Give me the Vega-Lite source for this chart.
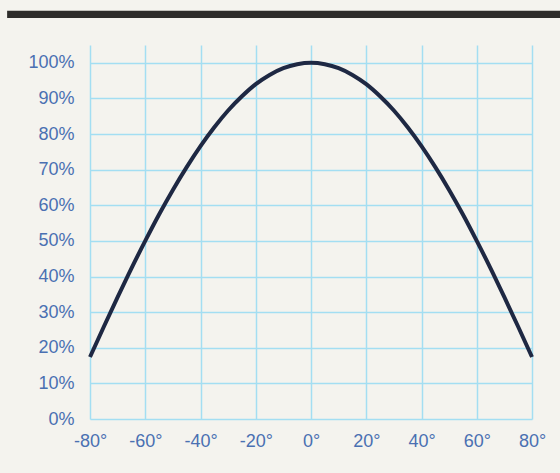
{
  "$schema": "https://vega.github.io/schema/vega-lite/v6.json",
  "autosize": "none",
  "width": 442,
  "height": 374,
  "padding": {"left": 90, "top": 45, "right": 28, "bottom": 54},
  "background": "#f4f3ee",
  "config": {
    "view": {"stroke": null},
    "font": "Liberation Sans",
    "axis": {
      "title": null,
      "domain": false,
      "ticks": false,
      "grid": true,
      "gridColor": "#a3def2",
      "gridWidth": 1.5,
      "gridOpacity": 1,
      "labelColor": "#4a70b2",
      "labelFontSize": 18,
      "labelFlush": false,
      "labelOverlap": false
    },
    "axisX": {"labelPadding": 13},
    "axisY": {"labelPadding": 16}
  },
  "data": {
    "values": [
      {"angle": -80, "pct": 17.4},
      {"angle": -75, "pct": 25.9},
      {"angle": -70, "pct": 34.2},
      {"angle": -65, "pct": 42.3},
      {"angle": -60, "pct": 50.0},
      {"angle": -55, "pct": 57.4},
      {"angle": -50, "pct": 64.3},
      {"angle": -45, "pct": 70.7},
      {"angle": -40, "pct": 76.6},
      {"angle": -35, "pct": 81.9},
      {"angle": -30, "pct": 86.6},
      {"angle": -25, "pct": 90.6},
      {"angle": -20, "pct": 94.0},
      {"angle": -15, "pct": 96.6},
      {"angle": -10, "pct": 98.5},
      {"angle": -5, "pct": 99.6},
      {"angle": 0, "pct": 100.0},
      {"angle": 5, "pct": 99.6},
      {"angle": 10, "pct": 98.5},
      {"angle": 15, "pct": 96.6},
      {"angle": 20, "pct": 94.0},
      {"angle": 25, "pct": 90.6},
      {"angle": 30, "pct": 86.6},
      {"angle": 35, "pct": 81.9},
      {"angle": 40, "pct": 76.6},
      {"angle": 45, "pct": 70.7},
      {"angle": 50, "pct": 64.3},
      {"angle": 55, "pct": 57.4},
      {"angle": 60, "pct": 50.0},
      {"angle": 65, "pct": 42.3},
      {"angle": 70, "pct": 34.2},
      {"angle": 75, "pct": 25.9},
      {"angle": 80, "pct": 17.4}
    ]
  },
  "layer": [
    {
      "mark": {"type": "rect", "color": "#2e2d2b", "clip": false},
      "data": {"values": [{}]},
      "encoding": {
        "x": {
          "datum": -110, "type": "quantitative",
          "scale": {"domain": [-80, 80], "nice": false},
          "axis": {"values": [-80, -60, -40, -20, 0, 20, 40, 60, 80], "labelExpr": "datum.value + '°'"}
        },
        "x2": {"datum": 91},
        "y": {
          "datum": 112.6, "type": "quantitative",
          "scale": {"domain": [0, 105], "nice": false},
          "axis": {"values": [0, 10, 20, 30, 40, 50, 60, 70, 80, 90, 100], "labelExpr": "datum.value + '%'"}
        },
        "y2": {"datum": 114.6}
      }
    },
    {
      "mark": {"type": "line", "color": "#1e2843", "strokeWidth": 4, "interpolate": "monotone", "strokeCap": "butt"},
      "encoding": {
        "x": {
          "field": "angle", "type": "quantitative",
          "scale": {"domain": [-80, 80], "nice": false},
          "axis": {"values": [-80, -60, -40, -20, 0, 20, 40, 60, 80], "labelExpr": "datum.value + '°'"}
        },
        "y": {
          "field": "pct", "type": "quantitative",
          "scale": {"domain": [0, 105], "nice": false},
          "axis": {"values": [0, 10, 20, 30, 40, 50, 60, 70, 80, 90, 100], "labelExpr": "datum.value + '%'"}
        }
      }
    }
  ]
}
